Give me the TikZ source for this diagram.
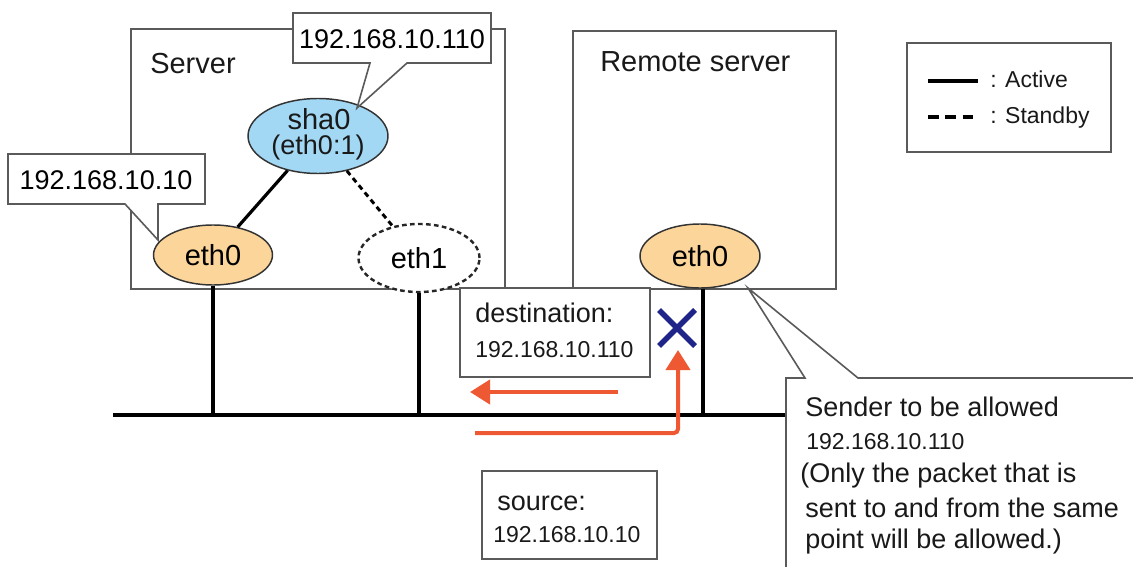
\documentclass[tikz,border=0pt]{standalone}
\usepackage{fontspec}
\setmainfont{Liberation Sans}
\usetikzlibrary{arrows.meta,fit,calc,shapes.geometric}
\definecolor{boxgray}{HTML}{5A5A5A}
\definecolor{shablue}{HTML}{A2D8F4}
\definecolor{ethorange}{HTML}{FBD59A}
\definecolor{pktred}{HTML}{EE5833}
\definecolor{xnavy}{HTML}{1F2488}
\newcommand{\fbig}{\fontsize{21.75}{24}\selectfont}
\newcommand{\fmid}{\fontsize{20.25}{23}\selectfont}
\newcommand{\fsml}{\fontsize{17.25}{20}\selectfont}
\tikzset{
  frame/.style={draw=boxgray,line width=1.4pt,inner sep=0pt},
  callout/.style={draw=boxgray,line width=1.2pt,fill=white,line join=miter},
  nic/.style={ellipse,draw=black!80,line width=1.1pt,fill=ethorange,inner sep=0pt},
  txt/.style={anchor=base west,inner sep=0pt,text=black!90},
  ctxt/.style={anchor=base,inner sep=0pt,text=black!90},
  wire/.style={black,line width=2.4pt},
  active/.style={black,line width=2.4pt},
  pkt/.style={pktred,line width=3pt,-{Triangle[length=15pt,width=18pt]}},
}
\begin{document}
\begin{tikzpicture}[x=0.75pt,y=-0.75pt]
\useasboundingbox (0,0) rectangle (1133,567);
\clip (0,0) rectangle (1133,567);
% boxes
\node[frame,fit={(131,29)(505,289)}] (server) {};
\node[frame,fit={(573,31)(836,289)}] (remote) {};
\node[frame,fit={(907,43)(1111,152)}] (legend) {};
\node[txt] (serverlbl) at (150,74) {\fbig Server};
\node[txt] (remotelbl) at (600,72) {\fbig Remote server};
% bus
\coordinate (busL) at (113,415);
\coordinate (busR) at (790,415);
\draw[wire,line width=3pt] (busL) -- (busR);
% interfaces
\node[nic,fill=shablue,minimum width=140*0.75pt,minimum height=75*0.75pt] (sha0) at (318,136) {};
\node[ctxt] (sha0a) at (319,130) {\fbig sha0};
\node[ctxt] (sha0b) at (318,155) {\fmid (eth0:1)};
\node[nic,minimum width=119*0.75pt,minimum height=60*0.75pt] (eth0) at (213,255) {\fbig eth0};
\node[ellipse,draw=black!85,line width=1.8pt,dash pattern=on 3.5pt off 2.5pt,fill=white,inner sep=0pt,minimum width=121*0.75pt,minimum height=68*0.75pt] (eth1) at (419,258) {\fbig eth1};
\node[nic,minimum width=120*0.75pt,minimum height=64*0.75pt] (reth0) at (700,256) {\fbig eth0};
% connectors
\draw[active] (sha0) -- (eth0);
\draw[black,line width=2.2pt,dash pattern=on 4pt off 3pt] (sha0) -- (eth1);
\draw[wire] (eth0.south) -- (eth0.south |- busL);
\draw[wire] (eth1.south) -- (eth1.south |- busL);
\coordinate (rdrop) at (703,289);
\draw[wire] (rdrop) -- (rdrop |- busL);
% callouts
\draw[callout] (293,13) -- (491,13) -- (491,63) -- (407,63) -- (357,108) -- (370,63) -- (293,63) -- cycle;
\node (ip110) at (392,39) {\fmid 192.168.10.110};
\draw[callout] (8,154) -- (205,154) -- (205,204) -- (158,204) -- (158,240) -- (125,204) -- (8,204) -- cycle;
\node (ip10) at (106,180) {\fmid 192.168.10.10};
\coordinate (tipR) at (748,288);
\draw[callout] (786,580) -- (786,378) -- (805,378) -- (tipR) -- (858,378) -- (1145,378);
\node[txt] (snd1) at (805,416) {\fmid Sender to be allowed};
\node[txt] (snd2) at (806,449) {\fsml 192.168.10.110};
\node[txt] (snd3) at (800,482) {\fmid (Only the packet that is};
\node[txt] (snd4) at (805,517) {\fmid sent to and from the same};
\node[txt] (snd5) at (805,548) {\fmid point will be allowed.)};
% destination / source
\node[frame,fill=white,fit={(460,288)(650,377)}] (dest) {};
\node[txt] (dest1) at (475,322) {\fmid destination:};
\node[txt] (dest2) at (475,357) {\fsml 192.168.10.110};
\node[frame,fill=white,fit={(482,471)(657,559)}] (src) {};
\node[txt] (src1) at (497,510) {\fmid source:};
\node[txt] (src2) at (493,542) {\fsml 192.168.10.10};
% packets
\coordinate (p1s) at (618,392);
\coordinate (p1e) at (470,392);
\draw[pkt] (p1s) -- (p1e);
\coordinate (p2s) at (475,433);
\coordinate (p2c) at (678,433);
\coordinate (p2e) at (678,350);
\draw[pkt,rounded corners=3pt] (p2s) -- (p2c) -- (p2e);
% blocked mark
\coordinate (xc) at (677,328);
\draw[xnavy,line width=4pt] ($(xc)+(-18,-18)$) -- ($(xc)+(18,18)$) ($(xc)+(-18,18)$) -- ($(xc)+(18,-18)$);
% legend
\coordinate (la) at (928,81);
\coordinate (lb) at (978,81);
\coordinate (lc) at (928,117);
\coordinate (ld) at (978,117);
\draw[active,line width=2.4pt] (la) -- (lb);
\draw[black,line width=2.4pt,dash pattern=on 8pt off 5pt] (lc) -- (ld);
\node[txt] (lg1) at (990,88) {\fsml : Active};
\node[txt] (lg2) at (990,123) {\fsml : Standby};
\end{tikzpicture}
\end{document}
